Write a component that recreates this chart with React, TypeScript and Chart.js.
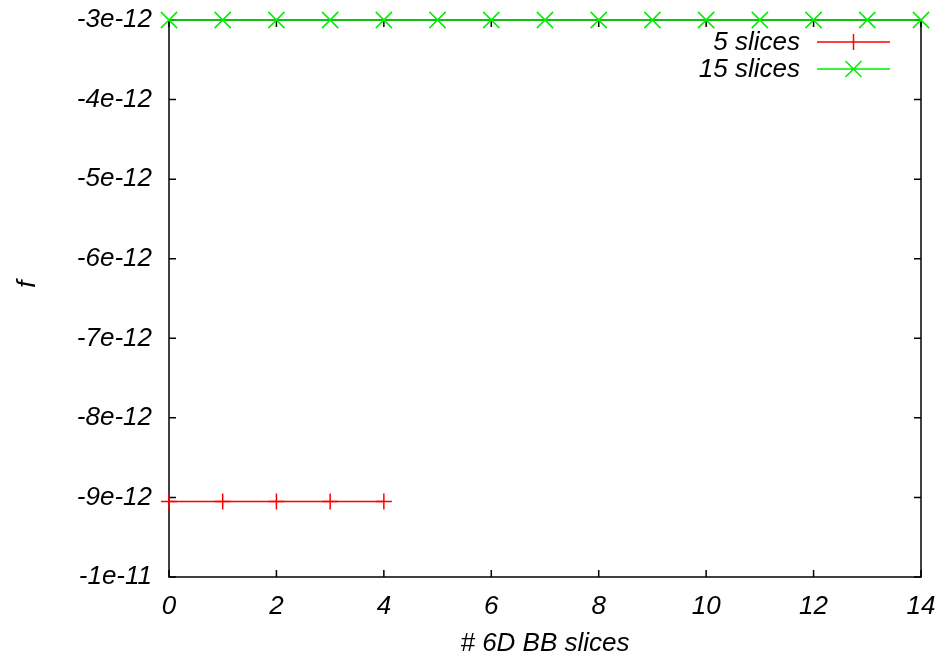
import React, { useEffect, useRef } from 'react';
import { Chart, registerables } from 'chart.js';

Chart.register(...registerables);

const seriesLabels = ['5 slices', '15 slices'];
const seriesColors = ['#ff0000', '#00ee00'];
const slices5X = [0, 1, 2, 3, 4];
const slices5Y = [-9.05e-12, -9.05e-12, -9.05e-12, -9.05e-12, -9.05e-12];
const slices15X = [0, 1, 2, 3, 4, 5, 6, 7, 8, 9, 10, 11, 12, 13, 14];
const slices15Y = [
  -3e-12, -3e-12, -3e-12, -3e-12, -3e-12, -3e-12, -3e-12, -3e-12,
  -3e-12, -3e-12, -3e-12, -3e-12, -3e-12, -3e-12, -3e-12,
];
const xTickValues = [0, 2, 4, 6, 8, 10, 12, 14];
const yTickValues = [-1e-11, -9e-12, -8e-12, -7e-12, -6e-12, -5e-12, -4e-12, -3e-12];
const yTickLabels = ['-1e-11', '-9e-12', '-8e-12', '-7e-12', '-6e-12', '-5e-12', '-4e-12', '-3e-12'];
const xTitle = '# 6D BB slices';
const yTitle = '    f';

const FONT = { family: '"Liberation Sans", Arial, Helvetica, sans-serif', style: 'italic' as const, size: 26 };

const framePlugin = {
  id: 'gnuFrame',
  beforeDatasetsDraw(chart: any) {
    const { ctx, chartArea: a, scales } = chart;
    const tl = 7;
    ctx.save();
    ctx.strokeStyle = '#000';
    ctx.lineWidth = 1.5;
    ctx.beginPath();
    xTickValues.forEach((v) => {
      const px = scales.x.getPixelForValue(v);
      ctx.moveTo(px, a.bottom);
      ctx.lineTo(px, a.bottom - tl);
      ctx.moveTo(px, a.top);
      ctx.lineTo(px, a.top + tl);
    });
    yTickValues.forEach((v) => {
      const py = scales.y.getPixelForValue(v);
      ctx.moveTo(a.left, py);
      ctx.lineTo(a.left + tl, py);
      ctx.moveTo(a.right, py);
      ctx.lineTo(a.right - tl, py);
    });
    ctx.stroke();
    ctx.strokeRect(a.left, a.top, a.right - a.left, a.bottom - a.top);
    ctx.restore();
  },
  afterDatasetsDraw(chart: any) {
    const { ctx } = chart;
    const textRight = 800;
    const lineStart = 817;
    const lineEnd = 890;
    const rows = [42, 69];
    ctx.save();
    ctx.font = `italic ${FONT.size}px ${FONT.family}`;
    ctx.textAlign = 'right';
    ctx.textBaseline = 'middle';
    chart.data.datasets.forEach((ds: any, i: number) => {
      const y = rows[i];
      ctx.fillStyle = '#000';
      ctx.fillText(ds.label, textRight, y + 1);
      ctx.strokeStyle = ds.borderColor;
      ctx.lineWidth = 1.5;
      ctx.beginPath();
      ctx.moveTo(lineStart, y);
      ctx.lineTo(lineEnd, y);
      const cx = (lineStart + lineEnd) / 2;
      if (ds.pointStyle === 'cross') {
        ctx.moveTo(cx, y - 8);
        ctx.lineTo(cx, y + 8);
      } else {
        ctx.moveTo(cx - 8, y - 8);
        ctx.lineTo(cx + 8, y + 8);
        ctx.moveTo(cx - 8, y + 8);
        ctx.lineTo(cx + 8, y - 8);
      }
      ctx.stroke();
    });
    ctx.restore();
  },
};

export default function App() {
  const ref = useRef<HTMLCanvasElement>(null);

  useEffect(() => {
    if (!ref.current) return;
    const chart = new Chart(ref.current, {
      type: 'scatter',
      data: {
        datasets: [
          {
            label: seriesLabels[0],
            data: slices5X.map((x, i) => ({ x, y: slices5Y[i] })),
            borderColor: seriesColors[0],
            backgroundColor: seriesColors[0],
            showLine: true,
            borderWidth: 1.5,
            pointStyle: 'cross',
            pointRadius: 8,
            pointBorderWidth: 1.5,
            clip: false,
          },
          {
            label: seriesLabels[1],
            data: slices15X.map((x, i) => ({ x, y: slices15Y[i] })),
            borderColor: seriesColors[1],
            backgroundColor: seriesColors[1],
            showLine: true,
            borderWidth: 1.5,
            pointStyle: 'crossRot',
            pointRadius: 11.5,
            pointBorderWidth: 1.5,
            clip: false,
          },
        ],
      },
      options: {
        responsive: false,
        animation: false,
        layout: { padding: { top: 20, right: 25, left: 0, bottom: 0 } },
        plugins: { legend: { display: false }, tooltip: { enabled: false } },
        scales: {
          x: {
            type: 'linear',
            min: 0,
            max: 14,
            grid: { display: false },
            border: { display: false },
            afterBuildTicks: (s: any) => {
              s.ticks = xTickValues.map((v) => ({ value: v }));
            },
            afterFit: (s: any) => {
              s.height = 82;
              s.paddingLeft = 0;
              s.paddingRight = 0;
            },
            ticks: {
              font: FONT,
              color: '#000',
              padding: 6,
              callback: (v: any) => String(v),
            },
            title: {
              display: true,
              text: xTitle,
              font: FONT,
              color: '#000',
              padding: { top: 0, bottom: 0 },
            },
          },
          y: {
            type: 'linear',
            min: -1e-11,
            max: -3e-12,
            grid: { display: false },
            border: { display: false },
            afterBuildTicks: (s: any) => {
              s.ticks = yTickValues.map((v) => ({ value: v }));
            },
            afterFit: (s: any) => {
              s.width = 169;
              s.paddingTop = 0;
              s.paddingBottom = 0;
            },
            ticks: {
              font: FONT,
              color: '#000',
              padding: 9,
              callback: (_v: any, i: number) => yTickLabels[i],
            },
            title: {
              display: true,
              text: yTitle,
              font: FONT,
              color: '#000',
              padding: { top: 12, bottom: 0 },
            },
          },
        },
      },
      plugins: [framePlugin],
    });
    return () => chart.destroy();
  }, []);

  return (
    <div style={{ position: 'fixed', left: 0, top: 0, width: 946, height: 659, background: '#fff' }}>
      <canvas ref={ref} width={946} height={659} style={{ display: 'block' }} />
    </div>
  );
}
